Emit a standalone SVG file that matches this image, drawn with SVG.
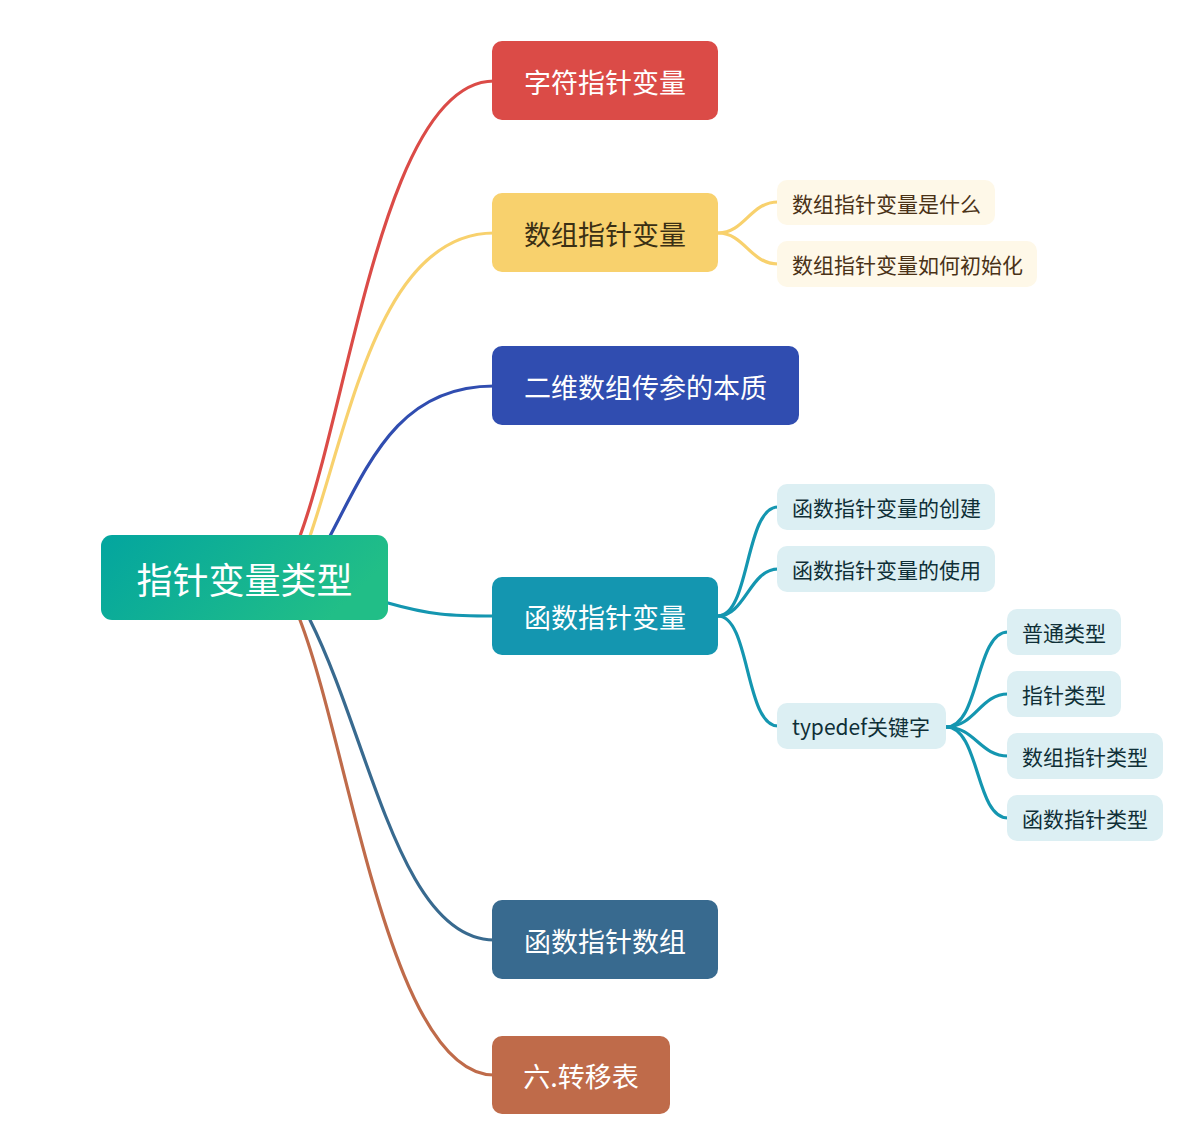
<svg xmlns="http://www.w3.org/2000/svg" width="1192" height="1139" viewBox="0 0 1192 1139">
<defs>
<linearGradient id="rootGrad" x1="0" y1="0" x2="1" y2="0.3">
<stop offset="0" stop-color="#03A59F"/>
<stop offset="1" stop-color="#21BE87"/>
</linearGradient>
<style>
text{font-family:"Noto Sans CJK SC","Microsoft YaHei","Liberation Sans",sans-serif;dominant-baseline:central}
.main{font-size:27px;fill:#ffffff}
.dark{fill:#3a2f14}
.sub{font-size:21px}
.subY{fill:#4a3217}
.subT{fill:#0f2f37}
.c{fill:none;stroke-width:3.2;stroke-linecap:round}
</style>
</defs>
<rect width="1192" height="1139" fill="#ffffff"/>
<g id="connectors">
<path class="c" stroke="#DB4B47" d="M300,536 C350,400 385,81 494,81"/>
<path class="c" stroke="#F8D16D" d="M310,536 C350,420 380,233 494,233"/>
<path class="c" stroke="#304DB0" d="M330,536 C370,460 400,386 494,386"/>
<path class="c" stroke="#1496B0" d="M388,603 C430,615 450,616 494,616"/>
<path class="c" stroke="#386A8F" d="M310,620 C370,740 400,940 494,940"/>
<path class="c" stroke="#BF6B4A" d="M300,620 C350,750 390,1075 494,1075"/>
<path class="c" stroke="#F8D16D" d="M718,233 C745,233 750,202 778,202"/>
<path class="c" stroke="#F8D16D" d="M718,233 C745,233 750,264 778,264"/>
<path class="c" stroke="#1496B0" d="M718,616 C750,616 745,507 778,507"/>
<path class="c" stroke="#1496B0" d="M718,616 C745,616 750,569 778,569"/>
<path class="c" stroke="#1496B0" d="M718,616 C750,616 745,726 778,726"/>
<path class="c" stroke="#1496B0" d="M946,727 C980,727 975,632 1008,632"/>
<path class="c" stroke="#1496B0" d="M946,727 C975,727 980,694 1008,694"/>
<path class="c" stroke="#1496B0" d="M946,727 C975,727 980,756 1008,756"/>
<path class="c" stroke="#1496B0" d="M946,727 C980,727 975,818 1008,818"/>
</g>
<g id="root">
<rect x="101" y="535" width="287" height="85" rx="11" fill="url(#rootGrad)"/>
<text x="244.5" y="578" font-size="36" fill="#ffffff" text-anchor="middle">指针变量类型</text>
</g>
<g id="n1">
<rect x="492" y="41" width="226" height="79" rx="10" fill="#DB4B47"/>
<text class="main" x="605" y="81" text-anchor="middle">字符指针变量</text>
</g>
<g id="n2">
<rect x="492" y="193" width="226" height="79" rx="10" fill="#F8D16D"/>
<text class="main dark" x="605" y="233" text-anchor="middle">数组指针变量</text>
</g>
<g id="n2a">
<rect x="777" y="180" width="218" height="45" rx="10" fill="#FEF8E8"/>
<text class="sub subY" x="792" y="203">数组指针变量是什么</text>
</g>
<g id="n2b">
<rect x="777" y="241" width="260" height="46" rx="10" fill="#FEF8E8"/>
<text class="sub subY" x="792" y="264">数组指针变量如何初始化</text>
</g>
<g id="n3">
<rect x="492" y="346" width="307" height="79" rx="10" fill="#304DB0"/>
<text class="main" x="645.5" y="386" text-anchor="middle">二维数组传参的本质</text>
</g>
<g id="n4">
<rect x="492" y="577" width="226" height="78" rx="10" fill="#1496B0"/>
<text class="main" x="605" y="616" text-anchor="middle">函数指针变量</text>
</g>
<g id="n4a">
<rect x="777" y="484" width="218" height="46" rx="10" fill="#DCEFF3"/>
<text class="sub subT" x="792" y="507">函数指针变量的创建</text>
</g>
<g id="n4b">
<rect x="777" y="546" width="218" height="46" rx="10" fill="#DCEFF3"/>
<text class="sub subT" x="792" y="569">函数指针变量的使用</text>
</g>
<g id="n4c">
<rect x="777" y="703" width="169" height="46" rx="10" fill="#DCEFF3"/>
<text class="sub subT" x="792" y="726">typedef关键字</text>
</g>
<g id="n4c1">
<rect x="1007" y="609" width="114" height="46" rx="10" fill="#DCEFF3"/>
<text class="sub subT" x="1022" y="632">普通类型</text>
</g>
<g id="n4c2">
<rect x="1007" y="671" width="114" height="46" rx="10" fill="#DCEFF3"/>
<text class="sub subT" x="1022" y="694">指针类型</text>
</g>
<g id="n4c3">
<rect x="1007" y="733" width="156" height="46" rx="10" fill="#DCEFF3"/>
<text class="sub subT" x="1022" y="756">数组指针类型</text>
</g>
<g id="n4c4">
<rect x="1007" y="795" width="156" height="46" rx="10" fill="#DCEFF3"/>
<text class="sub subT" x="1022" y="818">函数指针类型</text>
</g>
<g id="n5">
<rect x="492" y="900" width="226" height="79" rx="10" fill="#386A8F"/>
<text class="main" x="605" y="940" text-anchor="middle">函数指针数组</text>
</g>
<g id="n6">
<rect x="492" y="1036" width="178" height="78" rx="10" fill="#BF6B4A"/>
<text class="main" x="581" y="1075" text-anchor="middle">六.转移表</text>
</g>
</svg>
